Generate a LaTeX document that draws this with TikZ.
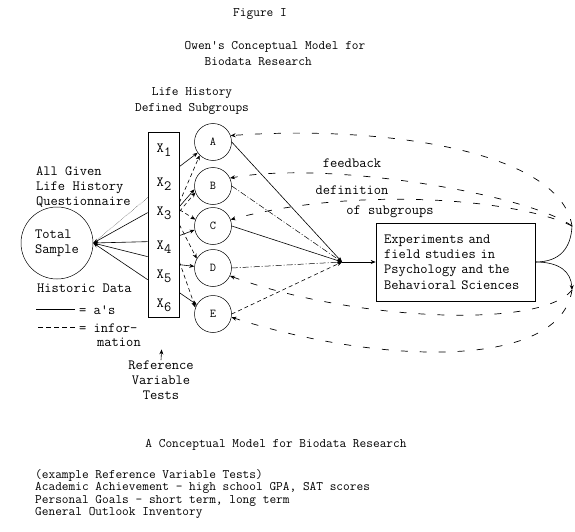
\documentclass[tikz,border=0pt]{standalone}
\usetikzlibrary{arrows.meta,positioning,calc}
\tikzset{
  lbl/.style  ={font=\ttfamily\fontsize{14.1}{15.3}\selectfont,inner sep=0pt},
  ttl/.style  ={font=\ttfamily\fontsize{13}{16}\selectfont,inner sep=0pt},
  lst/.style  ={font=\ttfamily\fontsize{13}{12.4}\selectfont,inner sep=0pt},
  grp/.style  ={circle,draw,line width=0.5pt,minimum size=37pt,inner sep=0pt,
                font=\ttfamily\fontsize{12}{12}\selectfont},
  tip/.style  ={-{Stealth[length=5pt,width=4pt]}},
  sol/.style  ={tip,line width=0.6pt},
  info/.style ={tip,line width=0.6pt,dash pattern=on 4pt off 3pt},
  ddot/.style ={tip,line width=0.5pt,dash pattern=on 6pt off 2pt on 1pt off 2pt},
  fb/.style   ={tip,line width=0.7pt,dash pattern=on 7pt off 12pt},
}
\newcommand{\xv}[1]{X\raisebox{-4pt}{#1}}

\begin{document}
\begin{tikzpicture}[x=1pt,y=-1pt]
  \useasboundingbox (0,0) rectangle (575,532);
  % headings
  \node[ttl] (fig) at (260,14) {Figure I};
  \node[ttl,align=left] (title) at (275,54) {Owen's Conceptual Model for\\\phantom{Owe}Biodata Research};
  \node[ttl,align=center] (lhist) at (192,101) {Life History\\Defined Subgroups};

  % left side
  \node[lbl,align=left,anchor=west] (quest) at (36,187) {All Given\\Life History\\Questionnaire};
  \node[grp,lbl,minimum size=72pt,align=left,line width=0.5pt] (total) at (57,243) {Total\\Sample};
  \node[lbl,anchor=base west] (hist) at (37,292) {Historic Data};
  \node[lbl,anchor=base west] (leg1) at (79,314) {= a's};
  \node[lbl,anchor=base west] (leg2) at (79,332) {= infor-};
  \node[lbl,anchor=base west] (leg3) at (97,346) {mation};
  \draw[line width=0.6pt] ([xshift=-4pt]leg1.west) -- ++(-39,0);
  \draw[line width=0.6pt,dash pattern=on 5pt off 3pt] ([xshift=-4pt]leg2.west) -- ++(-39,0);

  % reference variables
  \node[draw,line width=0.7pt,minimum width=31pt,minimum height=185pt,inner sep=0pt] (xbox) at (163.5,224.5) {};
  \foreach \i/\y in {1/150,2/184,3/213,4/247,5/276,6/305}
    \node[lbl] (x\i) at (164,\y) {\xv{\i}};
  \node[lbl,align=center] (refv) at (161,380) {Reference\\Variable\\Tests};
  \draw[tip,line width=0.6pt] (refv.north) -- ($(refv.north)!0.25!(xbox.south)$);

  \foreach \d in {81,110,125,148}
    \draw[sol] ($(xbox.north west)+(0,\d)$) -- (total.east);
  \draw[densely dotted,line width=0.4pt] ($(xbox.north west)+(0,66)$) -- (total.east);

  % subgroups
  \foreach \g/\y in {A/142,B/186,C/226,D/268,E/314}
    \node[grp] (\g) at (213,\y) {\g};
  \foreach \d/\g/\a in {35/A/215,75/B/190,104/C/192,133/D/175,161/E/150}
    \draw[sol] ($(xbox.north east)+(0,\d)$) -- (\g.\a);
  \foreach \d/\g/\a in {71/A/225,80/B/200,78/C/160,93/D/150,130/E/160}
    \draw[info] ($(xbox.north east)+(0,\d)$) -- (\g.\a);

  % experiments
  \coordinate (conv) at (342,262);
  \foreach \g/\s in {A/sol,B/ddot,C/sol,D/ddot,E/info}
    \draw[\s] (\g.east) -- (conv);
  \node[draw,line width=0.7pt,lbl,align=left,text width=143pt,inner xsep=8pt,minimum height=78pt]
    (exp) at (455.5,262) {Experiments and\\field studies in\\Psychology and the\\Behavioral Sciences};
  \draw[sol] (conv) -- (exp.west);

  % feedback
  \coordinate (fbup) at (572,226);
  \coordinate (fbdn) at (572,290);
  \draw[line width=0.6pt] (exp.east) .. controls (560,262) and (571,248) .. (fbup);
  \draw[sol] (exp.east) .. controls (560,262) and (571,272) .. (fbdn);
  \draw[fb] (fbup) .. controls (560,150) and (380,125) .. (A.20);
  \draw[fb] (fbup) .. controls (530,195) and (330,160) .. (B.25);
  \draw[fb] (fbup) .. controls (520,200) and (360,185) .. (C.20);
  \draw[fb] (fbdn) .. controls (540,330) and (350,320) .. (D.-25);
  \draw[fb] (fbdn) .. controls (560,370) and (380,365) .. (E.-10);
  \node[lbl] (fbk) at (352,163) {feedback};
  \node[lbl] (defn) at (352,190) {definition};
  \node[lbl,anchor=base] (subg) at (390,214) {of subgroups};

  % caption
  \node[ttl] (cap) at (276,445) {A Conceptual Model for Biodata Research};
  \node[lst,align=left,anchor=north west] (exlist) at (35,469)
    {(example Reference Variable Tests)\\Academic Achievement - high school GPA, SAT scores\\Personal Goals - short term, long term\\General Outlook Inventory};
\end{tikzpicture}
\end{document}
